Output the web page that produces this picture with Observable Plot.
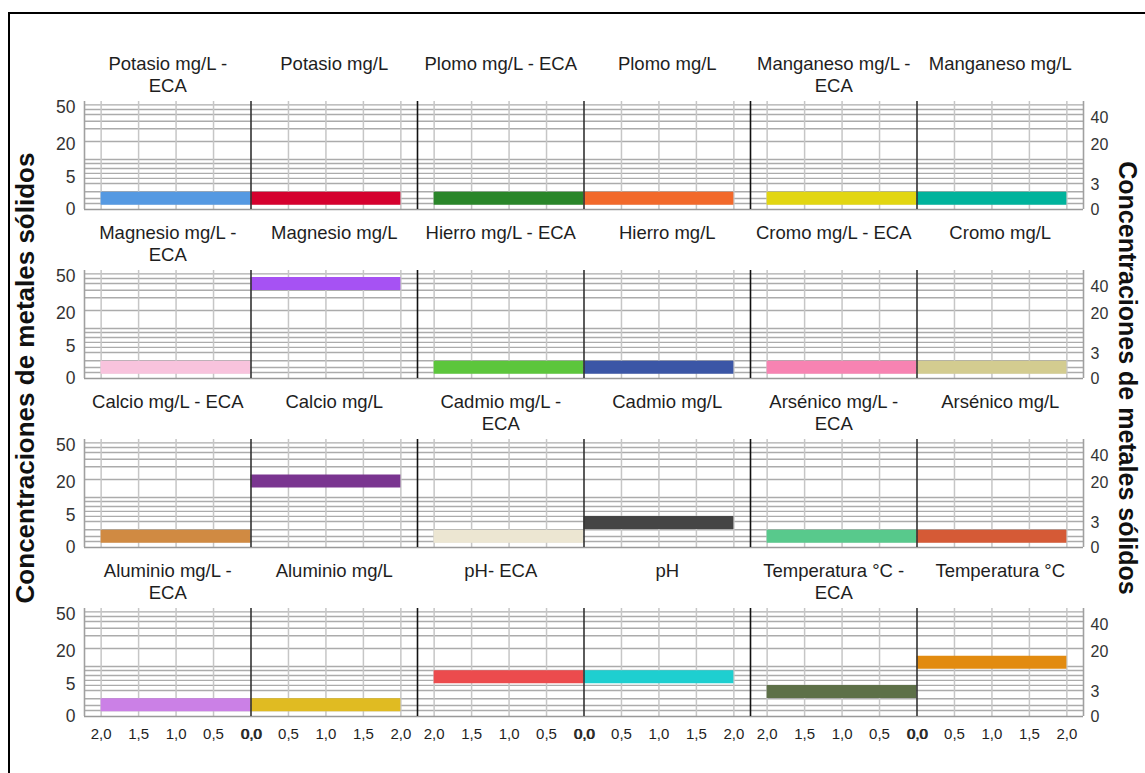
<!DOCTYPE html>
<html><head><meta charset="utf-8">
<script src="https://cdn.jsdelivr.net/npm/d3@7"></script>
<script src="https://cdn.jsdelivr.net/npm/@observablehq/plot@0.6"></script>
<style>
html,body{margin:0;padding:0;background:#fff;overflow:hidden;width:1145px;height:773px}
#chart{position:absolute;left:0;top:0}
#frame{position:absolute;left:8px;top:12px;width:1200px;height:820px;border:2px solid #000;box-sizing:border-box;pointer-events:none}
</style></head><body>
<div id="chart"></div>
<div id="frame"></div>
<script>
// ---- data ----
const ecaTitles = ["Potasio mg/L -\nECA","Plomo mg/L - ECA","Manganeso mg/L -\nECA",
  "Magnesio mg/L -\nECA","Hierro mg/L - ECA","Cromo mg/L - ECA",
  "Calcio mg/L - ECA","Cadmio mg/L -\nECA","Arsénico mg/L -\nECA",
  "Aluminio mg/L -\nECA","pH- ECA","Temperatura °C -\nECA"];
const measuredTitles = ["Potasio mg/L","Plomo mg/L","Manganeso mg/L",
  "Magnesio mg/L","Hierro mg/L","Cromo mg/L",
  "Calcio mg/L","Cadmio mg/L","Arsénico mg/L",
  "Aluminio mg/L","pH","Temperatura °C"];
const ecaConcentration = [0.6,0.6,0.6, 0.6,0.6,0.6, 0.6,0.6,0.6, 0.65,7.5,3];
const measuredConcentration = [0.6,0.6,0.6, 43,0.6,0.6, 21,3,0.6, 0.65,7.5,14];
const ecaCount = [2,2,2, 2,2,2, 2,2,2, 2,2,2];
const measuredCount = [2,2,2, 2,2,2, 2,2,2, 2,2,2];
const ecaColors = ["#5599e2","#2a862a","#e2d612",
  "#f8c3dd","#5cc63c","#f783b2",
  "#d08a42","#ece6d2","#58c98c",
  "#cb80e6","#ec4b4d","#5d7048"];
const measuredColors = ["#d5002e","#f2692b","#00b39c",
  "#a652f3","#3b56a6","#d3cc90",
  "#7a3590","#454545","#d55a36",
  "#e0bb22","#1ecfd0","#e28b10"];
const leftTicks = [0,5,20,50];
const rightTicks = [0,3,20,40];
const xTicks = [-2,-1.5,-1,-0.5,0,0.5,1,1.5,2];
const xGrid = [-2,-1.5,-1,-0.5,0.5,1,1.5,2];
const yGrid = [0.17,0.58,1.5,3.2,4.6,6.2,8.0,10.1,11.9,22,31,37,43,47.6,52.1];
const xLimit = 2.222;
const yMax = 55.5;

// ---- build tables ----
const cells = ecaTitles.map((t,i)=>({col:i%3,row:Math.floor(i/3)}));
const bars = [];
const titles = [];
ecaTitles.forEach((t,i)=>{
  const col=i%3,row=Math.floor(i/3);
  bars.push({col,row,x:-ecaCount[i],y:ecaConcentration[i],color:ecaColors[i]});
  bars.push({col,row,x:measuredCount[i],y:measuredConcentration[i],color:measuredColors[i]});
  titles.push({col,row,x:-xLimit/2,text:t});
  titles.push({col,row,x:xLimit/2,text:measuredTitles[i]});
});
const fmt = d => Math.abs(d).toFixed(1).replace(".", ",");

const chart = Plot.plot({
  width:1145, height:773,
  marginLeft:83, marginRight:62, marginTop:100, marginBottom:57,
  facetMarginTop:0, facetMarginBottom:0, facetMarginLeft:0, facetMarginRight:0,
  fx:{domain:[0,1,2], padding:0, axis:null},
  fy:{domain:[0,1,2,3], paddingInner:0.3621, paddingOuter:0, axis:null},
  x:{domain:[-xLimit,xLimit]},
  y:{type:"sqrt", domain:[0,yMax]},
  color:{type:"identity"},
  style:{fontFamily:"'Liberation Sans', Arial, sans-serif", color:"#1e1e1e", background:"transparent"},
  marks:[
    Plot.ruleY(yGrid,{stroke:"#ababab", strokeWidth:1.4}),
    Plot.ruleX(xGrid,{stroke:"#c6c6c6", strokeWidth:1.5}),
    Plot.ruleY([0],{stroke:"#999", strokeWidth:1.5}),
    Plot.ruleY(bars,{fx:"col", fy:"row", y:"y", x1:0, x2:"x", stroke:"color", strokeWidth:13}),
    Plot.ruleX([0],{stroke:"#333", strokeWidth:1.6}),
    Plot.ruleX(cells,{fx:"col", fy:"row", x:-xLimit, stroke:d=>d.col===0?"#a0a0a0":"#111", strokeWidth:1.6}),
    Plot.ruleX(cells.filter(d=>d.col===2),{fx:"col", fy:"row", x:xLimit, stroke:"#a0a0a0", strokeWidth:1.6}),
    Plot.text(titles,{fx:"col", fy:"row", x:"x", text:"text", frameAnchor:"top", lineAnchor:"top", dy:-47, fontSize:18.5, lineHeight:1.2, fill:"#1e1e1e"}),
    Plot.axisY(leftTicks,{anchor:"left", tickSize:0, tickPadding:9, fontSize:17.5, label:null, fill:"#333"}),
    Plot.axisY(rightTicks,{anchor:"right", tickSize:0, tickPadding:7, fontSize:16, label:null, fill:"#333"}),
    Plot.axisX(xTicks,{anchor:"bottom", tickSize:0, tickPadding:12, fontSize:15, tickFormat:fmt, label:null}),
    Plot.axisX([0],{anchor:"bottom", tickSize:0, tickPadding:12, fontSize:15, dx:0.8, tickFormat:fmt, label:null})
  ]
});
document.getElementById("chart").appendChild(chart);

// axis titles
const svg = d3.select(chart);
const yTitle = "Concentraciones de metales sólidos";
svg.append("text").attr("transform","translate(34,378) rotate(-90)")
  .attr("text-anchor","middle").attr("font-size",26).attr("font-weight","bold")
  .attr("font-family","'Liberation Sans', Arial, sans-serif").attr("fill","#111").text(yTitle);
svg.append("text").attr("transform","translate(1119,378) rotate(90)")
  .attr("text-anchor","middle").attr("font-size",25).attr("font-weight","bold")
  .attr("font-family","'Liberation Sans', Arial, sans-serif").attr("fill","#111").text(yTitle);
</script>
</body></html>
